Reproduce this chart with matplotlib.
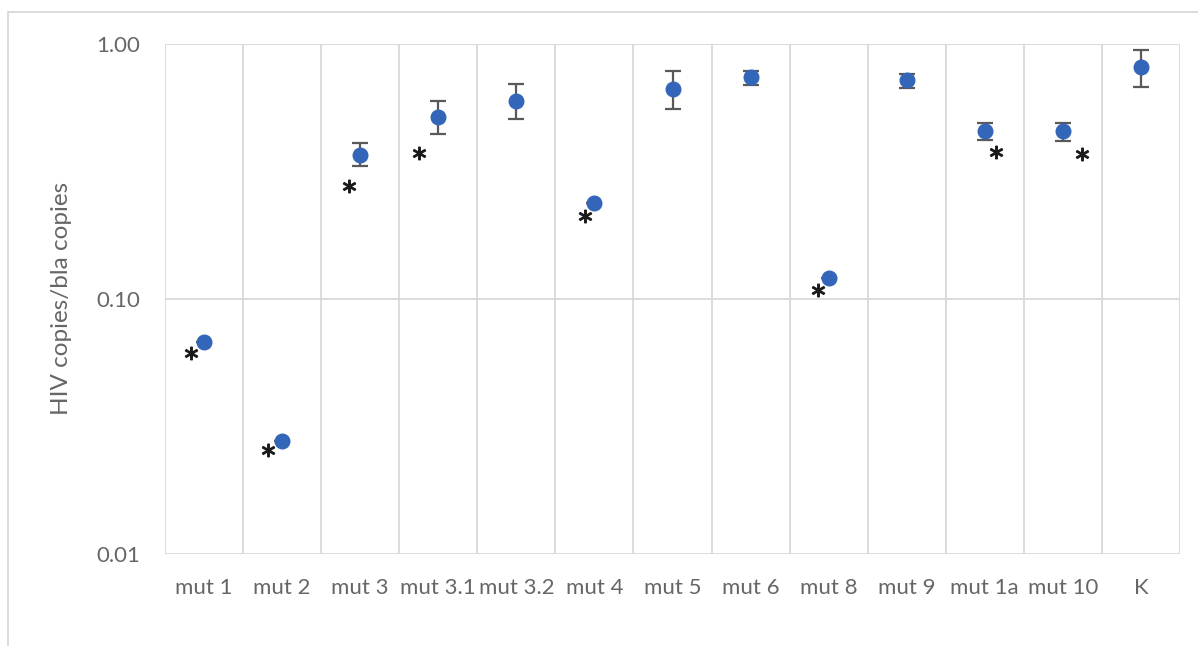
import matplotlib
matplotlib.use("Agg")
import matplotlib.pyplot as plt
import matplotlib.transforms as mtransforms
from matplotlib.patches import Rectangle
import numpy as np

categories = ["mut 1", "mut 2", "mut 3", "mut 3.1", "mut 3.2", "mut 4", "mut 5",
              "mut 6", "mut 8", "mut 9", "mut 1a", "mut 10", "K"]
values = [0.068, 0.0278, 0.367, 0.517, 0.598, 0.238, 0.666, 0.742, 0.121, 0.722, 0.456, 0.456, 0.812]
err_upper = [0.068, 0.0278, 0.409, 0.598, 0.697, 0.238, 0.784, 0.784, 0.121, 0.762, 0.490, 0.490, 0.947]
err_lower = [0.068, 0.0278, 0.332, 0.444, 0.508, 0.238, 0.556, 0.691, 0.121, 0.672, 0.420, 0.418, 0.678]
# significance markers: category name -> offset of the asterisk from the point (pixels)
star_cats = ["mut 1", "mut 2", "mut 3", "mut 3.1", "mut 4", "mut 8", "mut 1a", "mut 10"]
star_dx = [-13, -14, -11, -19, -9, -11, 11, 19]
star_dy = [-11, -9, -31, -36, -13, -12, -21, -23]
yticks = [0.01, 0.1, 1.0]
ytick_labels = ["0.01", "0.10", "1.00"]
ylabel = "HIV copies/bla copies"

plt.rcParams['font.family'] = ['Lato', 'DejaVu Sans']

fig = plt.figure(figsize=(11.98, 6.46), dpi=100)
ax = fig.add_axes([165/1198, 1-554/646, (1180-165)/1198, (554-44)/646])

x = np.arange(len(categories))
vals = np.array(values)
yerr = np.array([vals - np.array(err_lower), np.array(err_upper) - vals])
grid_c = "#d9d9d9"
ax.errorbar(x, vals, yerr=yerr, fmt='o', color='#3366b8', ms=10.5,
            ecolor='#595959', elinewidth=1.6, capsize=5.5, capthick=1.6, zorder=3)

for c, dx, dy in zip(star_cats, star_dx, star_dy):
    i = categories.index(c)
    tr = mtransforms.offset_copy(ax.transData, fig=fig, x=dx, y=dy, units='dots')
    ax.plot([i], [values[i]], marker='$*$', ms=9, color='#1a1a1a', ls='none',
            transform=tr, zorder=4)

ax.set_yscale('log')
ax.set_ylim(0.01, 1.0)
ax.set_xlim(-0.5, len(categories) - 0.5)
ax.set_yticks(yticks)
ax.set_yticklabels(ytick_labels)
ax.yaxis.set_minor_locator(matplotlib.ticker.NullLocator())
ax.set_xticks(x)
ax.set_xticklabels(categories)
ax.tick_params(axis='both', length=0, labelsize=16, labelcolor='#666666')
ax.tick_params(axis='x', pad=17)
ax.tick_params(axis='y', pad=18)

for b in np.arange(-0.5, len(categories) + 0.5, 1.0):
    ax.axvline(b, color=grid_c, lw=1.3, zorder=1)
for yv in yticks:
    ax.axhline(yv, color=grid_c, lw=1.3, zorder=1)
for s in ax.spines.values():
    s.set_visible(False)

fig.text(62/1198, 1-298/646, ylabel, rotation=90, ha='center', va='center',
         fontsize=17.5, color='#666666')

fig.patches.append(Rectangle((8/1198, -0.1), 1.2, 1-12/646+0.1, transform=fig.transFigure,
                             fill=False, edgecolor=grid_c, lw=1.3))

fig.savefig("out.png", dpi=100)
